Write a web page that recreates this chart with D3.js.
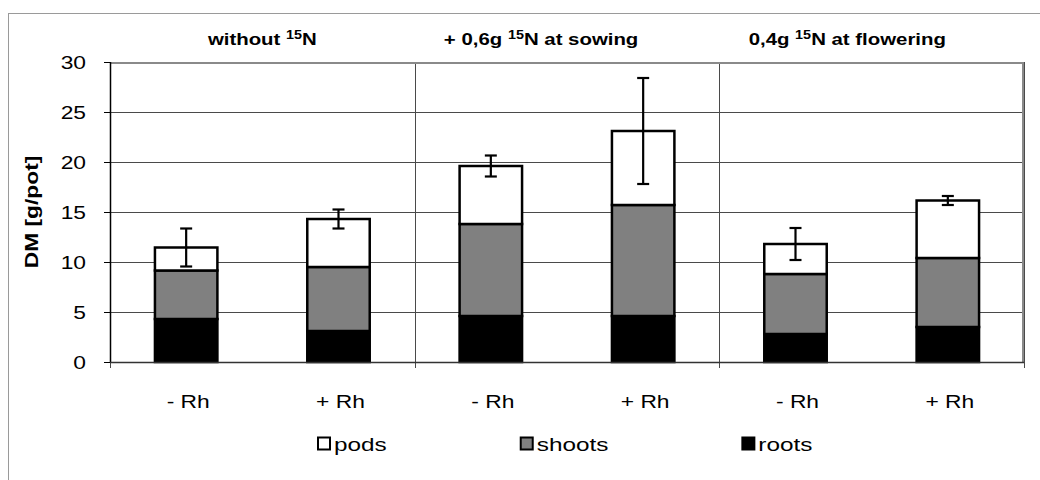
<!DOCTYPE html>
<html>
<head>
<meta charset="utf-8">
<script src="https://cdn.jsdelivr.net/npm/d3@7"></script>
<style>
	body { margin: 0; background: #fff; }
	svg { display: block; font-family: 'Liberation Sans', Arial, sans-serif; }
</style>
</head>
<body>
<svg id="chart" width="1040" height="480"></svg>
<script>
'use strict';

// data
const categories = ['- Rh', '+ Rh', '- Rh', '+ Rh', '- Rh', '+ Rh'];
const groupTitles = [
	['without ', '15', 'N'],
	['+ 0,6g ', '15', 'N at sowing'],
	['0,4g ', '15', 'N at flowering']
];
const roots = [4.3, 3.1, 4.6, 4.6, 2.8, 3.5];
const shoots = [4.85, 6.4, 9.2, 11.1, 6.0, 6.9];
const pods = [2.3, 4.8, 5.8, 7.4, 3.0, 5.75];
const podsErr = [1.9, 0.95, 1.05, 5.3, 1.6, 0.45];
const yTicks = [0, 5, 10, 15, 20, 25, 30];
const seriesNames = ['pods', 'shoots', 'roots'];
const seriesColors = { pods: '#ffffff', shoots: '#808080', roots: '#000000' };

const margin = { top: 62, right: 16, bottom: 118, left: 110 },
	width = 1040 - margin.left - margin.right,
	height = 480 - margin.top - margin.bottom,
	sx = 1.2; // text in the reference is drawn wide

const svg = d3.select('#chart');

// outer chart frame
svg.append('rect')
	.attr('x', 8.5).attr('y', 13.5)
	.attr('width', 1040).attr('height', 480)
	.attr('fill', 'none')
	.attr('stroke', '#9a9a9a');

const g = svg.append('g')
	.attr('transform', `translate(${margin.left},${margin.top})`);

const idx = categories.map((c, i) => i);
const x = d3.scaleBand().domain(idx).range([0, width]).paddingInner(0.59).paddingOuter(0.295);
const gx = d3.scaleBand().domain(d3.range(groupTitles.length)).range([0, width]);
const y = d3.scaleLinear().domain([0, 30]).range([height, 0]);

// horizontal gridlines
g.append('g')
	.selectAll('line').data(yTicks.filter(t => t > 0 && t < 30)).enter().append('line')
		.attr('x1', 0).attr('x2', width)
		.attr('y1', d => Math.round(y(d)) + 0.5).attr('y2', d => Math.round(y(d)) + 0.5)
		.attr('stroke', '#4a4a4a');

// group separators, running down past the axis as ticks
g.append('g')
	.selectAll('line').data(d3.range(groupTitles.length + 1)).enter().append('line')
		.attr('x1', d => Math.round(d * gx.bandwidth()) + 0.5)
		.attr('x2', d => Math.round(d * gx.bandwidth()) + 0.5)
		.attr('y1', 0).attr('y2', height + 6)
		.attr('stroke', '#4a4a4a');

// plot border (top and right in grey)
g.append('path')
	.attr('d', `M0,1H${width - 1}V${height}`)
	.attr('fill', 'none')
	.attr('stroke', '#8a8a8a')
	.attr('stroke-width', 2);

// stacked bars
const stack = d3.stack().keys(['roots', 'shoots', 'pods']);
const rows = idx.map(i => ({ roots: roots[i], shoots: shoots[i], pods: pods[i] }));
const layers = stack(rows);

g.append('g')
	.selectAll('g').data(layers).enter().append('g')
		.attr('fill', d => seriesColors[d.key])
	.selectAll('rect').data(d => d.map((v, i) => ({ v, i }))).enter().append('rect')
		.attr('x', d => x(d.i))
		.attr('y', d => y(d.v[1]))
		.attr('width', x.bandwidth())
		.attr('height', d => y(d.v[0]) - y(d.v[1]))
		.attr('stroke', '#000')
		.attr('stroke-width', 2.5);

// error bars on the totals
const errs = idx.map(i => ({ i, top: roots[i] + shoots[i] + pods[i], e: podsErr[i] }));
const eg = g.append('g').attr('stroke', '#000').attr('stroke-width', 2.2);
eg.selectAll('.stem').data(errs).enter().append('line')
	.attr('x1', d => x(d.i) + x.bandwidth() / 2)
	.attr('x2', d => x(d.i) + x.bandwidth() / 2)
	.attr('y1', d => y(d.top - d.e))
	.attr('y2', d => y(d.top + d.e));
eg.selectAll('.cap').data(errs.flatMap(d => [[d.i, d.top - d.e], [d.i, d.top + d.e]])).enter().append('line')
	.attr('x1', d => x(d[0]) + x.bandwidth() / 2 - 6)
	.attr('x2', d => x(d[0]) + x.bandwidth() / 2 + 6)
	.attr('y1', d => y(d[1]))
	.attr('y2', d => y(d[1]));

// axes lines
g.append('line')
	.attr('x1', 0.5).attr('x2', 0.5).attr('y1', 0).attr('y2', height)
	.attr('stroke', '#000').attr('stroke-width', 1.5);
g.append('line')
	.attr('x1', 0).attr('x2', width).attr('y1', height + 0.5).attr('y2', height + 0.5)
	.attr('stroke', '#333').attr('stroke-width', 1.5);

// y ticks and labels
g.append('g')
	.selectAll('line').data(yTicks).enter().append('line')
		.attr('x1', -6).attr('x2', 0)
		.attr('y1', d => Math.round(y(d)) + 0.5).attr('y2', d => Math.round(y(d)) + 0.5)
		.attr('stroke', '#000');
g.append('g')
	.selectAll('text').data(yTicks).enter().append('text')
		.attr('transform', d => `translate(-24,${y(d) + 7}) scale(${sx},1)`)
		.attr('text-anchor', 'end')
		.attr('font-size', 19)
		.text(d => d);

// category labels
g.append('g')
	.selectAll('text').data(idx).enter().append('text')
		.attr('transform', i => `translate(${x(i) + x.bandwidth() / 2 + 2},${height + 46}) scale(${sx},1)`)
		.attr('text-anchor', 'middle')
		.attr('font-size', 19)
		.text(i => categories[i]);

// group titles
const titleAnchor = [0.5, 0.415, 0.42];
const titles = svg.append('g')
	.selectAll('text').data(groupTitles).enter().append('text')
		.attr('transform', (d, i) => `translate(${margin.left + gx(i) + gx.bandwidth() * titleAnchor[i]},45) scale(${sx},1)`)
		.attr('text-anchor', 'middle')
		.attr('font-size', 17)
		.attr('font-weight', 'bold');
titles.append('tspan').text(d => d[0]);
titles.append('tspan').attr('font-size', 12).attr('dy', -6).text(d => d[1]);
titles.append('tspan').attr('dy', 6).text(d => d[2]);

// y axis title
svg.append('text')
	.attr('transform', `translate(38,${margin.top + height / 2}) rotate(-90) scale(1.2,1)`)
	.attr('text-anchor', 'middle')
	.attr('font-size', 19)
	.attr('font-weight', 'bold')
	.text('DM [g/pot]');

// legend
const legend = svg.append('g');
let lx = 318;
seriesNames.forEach(name => {
	legend.append('rect')
		.attr('x', lx).attr('y', 437.5)
		.attr('width', 12).attr('height', 12)
		.attr('fill', seriesColors[name])
		.attr('stroke', '#000')
		.attr('stroke-width', 2);
	let t = legend.append('text')
		.attr('transform', `translate(${lx + 16},451) scale(1.28,1)`)
		.attr('font-size', 19)
		.text(name);
	lx += 16 + t.node().getComputedTextLength() * 1.28 + 134;
});
</script>
</body>
</html>
